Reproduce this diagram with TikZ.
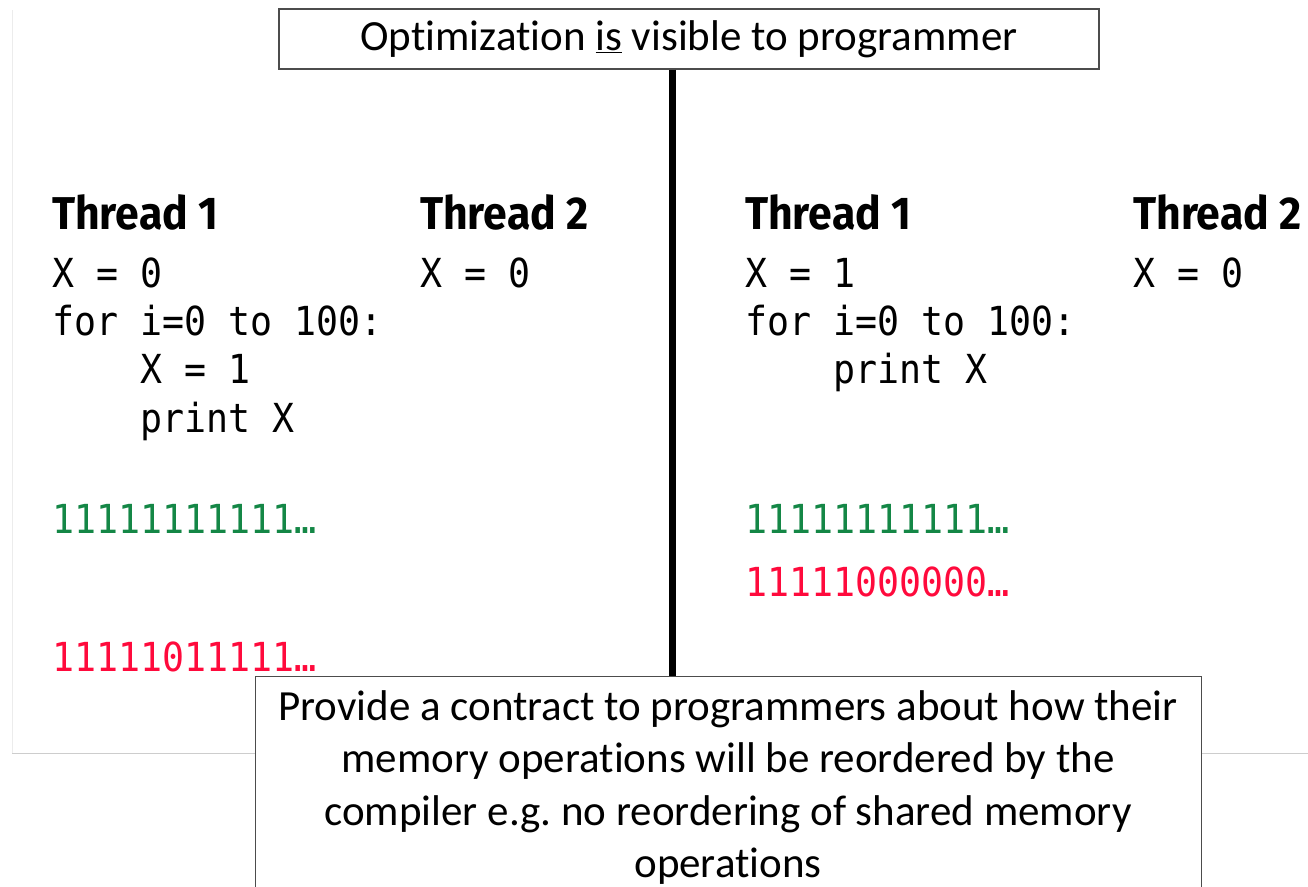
\documentclass[tikz,border=0pt]{standalone}
\usepackage{fontspec}
\setmainfont[Ligatures=NoCommon]{Carlito}
\newfontfamily\codefont[FakeStretch=0.914]{DejaVu Sans Mono}
\newfontfamily\headfont[FakeStretch=0.93]{Fira Sans}
\definecolor{okgreen}{RGB}{20,135,70}
\definecolor{badred}{RGB}{255,10,60}
\definecolor{framegray}{RGB}{205,205,205}
\definecolor{framelight}{RGB}{236,236,236}
\frenchspacing
\begin{document}
\begin{tikzpicture}[x=1pt,y=-1pt,
  txt/.style={anchor=base west,inner sep=0pt},
  head/.style={txt,font=\headfont\bfseries\fontsize{46}{50}\selectfont},
  code/.style={txt,font=\codefont\fontsize{40}{48}\selectfont},
  boxed/.style={draw=black!70,line width=1.2pt,fill=white,inner sep=0pt}]
\useasboundingbox (0,0) rectangle (1308,886);
% faint slide frame
\draw[framelight,line width=1pt] (12,10) -- (12,753);
\draw[framegray,line width=1pt] (12,753) -- (1308,753);

% left panel
\node[head] (lt1) at (52,229) {Thread 1};
\node[head] (lt2) at (420,229) {Thread 2};
\node[code] (la1) at (52,287) {X = 0};
\node[code] (lb1) at (420,287) {X = 0};
\node[code] (la2) at (52,335) {for i=0 to 100:};
\node[code] (la3) at (140,383) {X = 1};
\node[code] (la4) at (140,432) {print X};
\node[code,text=okgreen] (lg) at (52,533) {11111111111…};
\node[code,text=badred] (lr) at (52,671) {11111011111…};

% right panel
\node[head] (rt1) at (745,229) {Thread 1};
\node[head] (rt2) at (1133,229) {Thread 2};
\node[code] (ra1) at (745,287) {X = 1};
\node[code] (rb1) at (1133,287) {X = 0};
\node[code] (ra2) at (745,335) {for i=0 to 100:};
\node[code] (ra3) at (833,383) {print X};
\node[code,text=okgreen] (rg) at (745,533) {11111111111…};
\node[code,text=badred] (rr) at (745,596) {11111000000…};

% boxes
\node[boxed,minimum width=820pt,minimum height=60pt,
  font=\fontsize{43}{50}\selectfont] (topbox) at (689,39)
  {Optimization \underline{is} visible to programmer};
\node[boxed,anchor=north west,minimum width=946pt,minimum height=260pt] (bottombox) at (255,676) {};
\node[inner sep=0pt,anchor=north,align=center,
  font=\fontsize{43}{52.5}\selectfont] (bottomtext) at (728,690)
  {Provide a contract to programmers about how their\\
   memory operations will be reordered by the\\
   compiler e.g. no reordering of shared memory\\
   operations};

% divider
\coordinate (divx) at (672,0);
\draw[line width=7pt] (topbox.south -| divx) -- (bottombox.north -| divx);
\end{tikzpicture}
\end{document}
